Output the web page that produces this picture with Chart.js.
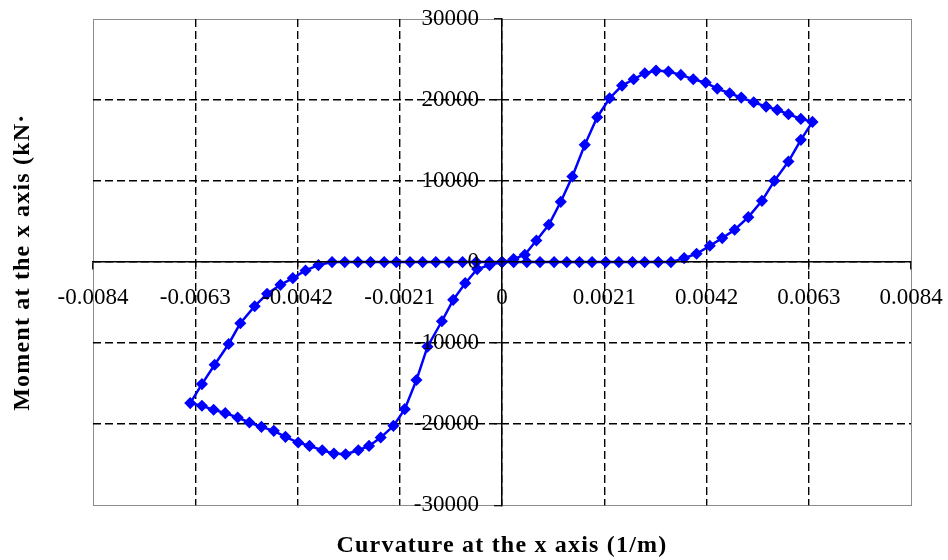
<!DOCTYPE html>
<html>
<head>
<meta charset="utf-8">
<script src="https://cdn.jsdelivr.net/npm/chart.js@4.4.1/dist/chart.umd.min.js"></script>
<style>
  html, body { margin: 0; padding: 0; background: #fff; }
  #wrap { width: 948px; height: 560px; }
</style>
</head>
<body>
<div id="wrap"><canvas id="hysteresis" width="948" height="560"></canvas></div>
<script>
// curvature (1/m) and moment (kN.m), in drawing order round the loop
var curvature = [
  0, 0.000238, 0.000468, 0.000706, 0.000961, 0.001207, 0.001445, 0.0017, 0.001955, 0.00221,
  0.002466, 0.002704, 0.002933, 0.003163, 0.003418, 0.003673, 0.003928, 0.004183, 0.004421,
  0.004676, 0.004914, 0.005169, 0.005424, 0.005654, 0.005883, 0.006138, 0.006377,
  0.006138, 0.005883, 0.005594, 0.005339, 0.005059, 0.004778, 0.004523, 0.004268, 0.003996, 0.003741,
  0.00347, 0.00321, 0.00293, 0.00268, 0.0024, 0.00213, 0.00185, 0.00159, 0.00133, 0.00107,
  0.00078, 0.00051, 0.00024, 0, -0.00026, -0.00053, -0.00081, -0.00109, -0.00136, -0.00163,
  -0.00189, -0.00217, -0.00242, -0.0027, -0.00296, -0.00323, -0.00349,
  -0.00377, -0.004035, -0.004296, -0.00455, -0.004825, -0.005079, -0.005374, -0.005614,
  -0.005902, -0.006163, -0.006403,
  -0.006163, -0.005923, -0.005683, -0.005429, -0.005188, -0.004941, -0.004687, -0.004447,
  -0.004186, -0.003953, -0.003692, -0.003452, -0.003212, -0.002951, -0.002731, -0.002491,
  -0.00223, -0.001997, -0.001757, -0.00153, -0.001235, -0.001002, -0.000755, -0.00051,
  -0.000255, 0
];
var moment = [
  0, 370, 904, 2672, 4603, 7439, 10563, 14468, 17879, 20222,
  21784, 22564, 23304, 23633, 23510, 23099, 22564, 22153, 21413,
  20838, 20304, 19728, 19194, 18783, 18249, 17674, 17304,
  15085, 12413, 10029, 7563, 5549, 3987, 2959, 2014, 1028, 493,
  0, 0, 0, 0, 0, 0, 0, 0, 0, 0,
  0, 0, 0, 0, 0, 0, 0, 0, 0, 0,
  0, 0, 0, 0, 0, 0, 0,
  -370, -1031, -1979, -2804, -3918, -5444, -7547, -10104,
  -12660, -15053, -17403,
  -17733, -18228, -18640, -19177, -19795, -20331, -20826, -21568,
  -22269, -22682, -23218, -23630, -23713, -23218, -22682, -21651,
  -20207, -18145, -14557, -10434, -7300, -4660, -2598, -863,
  -370, 0
];

var xTicks = [-0.0084, -0.0063, -0.0042, -0.0021, 0, 0.0021, 0.0042, 0.0063, 0.0084];
var xTickLabels = ['-0.0084', '-0.0063', '-0.0042', '-0.0021', '0', '0.0021', '0.0042', '0.0063', '0.0084'];
var yTicks = [-30000, -20000, -10000, 0, 10000, 20000, 30000];
var yTickLabels = ['-30000', '-20000', '-10000', '0', '10000', '20000', '30000'];

var xTitle = 'Curvature at the x axis (1/m)';
var yTitle = 'Moment at the x axis (kN\u00b7';

Chart.defaults.font.family = "'Liberation Serif', 'Times New Roman', serif";
Chart.defaults.color = '#000';

// grey box round the plot area, white page behind.
// the two axis titles are spaced out a little, so letter spacing is on
// until the data is drawn (axes and tick labels come after, at z 1)
var plotFrame = {
  id: 'plotFrame',
  beforeDraw: function(chart) {
    var a = chart.chartArea, ctx = chart.ctx;
    ctx.save();
    ctx.fillStyle = '#fff';
    ctx.fillRect(0, 0, chart.width, chart.height);
    ctx.strokeStyle = '#8c8c8c';
    ctx.lineWidth = 1;
    ctx.strokeRect(Math.round(a.left) + 0.5, Math.round(a.top) + 0.5,
      Math.round(a.right - a.left), Math.round(a.bottom - a.top));
    ctx.restore();
    ctx.letterSpacing = '1.2px';
  },
  afterDatasetsDraw: function(chart) {
    chart.ctx.letterSpacing = '0px';
  }
};

// no dashed line on top of the frame
function edgeless(ctx) {
  var s = ctx.scale;
  if (ctx.tick && (ctx.tick.value === s.min || ctx.tick.value === s.max)) return 'rgba(0,0,0,0)';
  return '#000';
}

var points = curvature.map(function(c, i) { return {x: c, y: moment[i]}; });

var ctx = document.getElementById('hysteresis').getContext('2d');
var chart = new Chart(ctx, {
  type: 'scatter',
  data: {
    datasets: [{
      data: points,
      showLine: true,
      borderColor: '#0000ff',
      backgroundColor: '#0000ff',
      borderWidth: 2.5,
      pointStyle: 'rectRot',
      pointRadius: 5,
      pointBorderWidth: 1.5,
      tension: 0
    }]
  },
  plugins: [plotFrame],
  options: {
    responsive: false,
    animation: false,
    layout: { padding: { top: 19, right: 37, left: 0, bottom: 0 } },
    plugins: {
      legend: { display: false },
      tooltip: { enabled: false },
      title: {
        display: true,
        text: xTitle,
        position: 'bottom',
        fullSize: false,
        color: '#000',
        font: { size: 24, weight: 'bold' },
        padding: { top: 26, bottom: 0 }
      },
      subtitle: {
        display: true,
        text: yTitle,
        position: 'left',
        fullSize: false,
        color: '#000',
        font: { size: 24, weight: 'bold' },
        padding: { top: 8, bottom: 56.2 }
      }
    },
    scales: {
      x: {
        type: 'linear',
        position: { y: 0 },
        min: -0.0084,
        max: 0.0084,
        afterBuildTicks: function(scale) {
          scale.ticks = xTicks.map(function(v) { return {value: v}; });
        },
        afterFit: function(scale) {
          scale.height = 0;
          scale.paddingLeft = 0;
          scale.paddingRight = 0;
        },
        ticks: {
          autoSkip: false,
          maxRotation: 0,
          padding: 15,
          z: 1,
          font: { size: 23 },
          color: '#000',
          callback: function(value, index) { return xTickLabels[index]; }
        },
        grid: {
          color: edgeless,
          lineWidth: 1.4,
          tickLength: 7,
          tickColor: '#000',
          tickWidth: 1.2
        },
        border: { display: true, color: '#000', width: 1.5, dash: [8, 4], z: 1 }
      },
      y: {
        type: 'linear',
        position: { x: 0 },
        min: -30000,
        max: 30000,
        afterBuildTicks: function(scale) {
          scale.ticks = yTicks.map(function(v) { return {value: v}; });
        },
        afterFit: function(scale) {
          scale.width = 0;
          scale.paddingTop = 0;
          scale.paddingBottom = 0;
        },
        ticks: {
          autoSkip: false,
          z: 1,
          font: { size: 23 },
          color: '#000',
          // centred axes put the label flush on the line, keep a gap of one em
          callback: function(value, index) { return yTickLabels[index] + '\u2003'; }
        },
        grid: {
          color: edgeless,
          lineWidth: 1.4,
          tickLength: 7,
          tickColor: '#000',
          tickWidth: 1.2
        },
        border: { display: true, color: '#000', width: 1.5, dash: [8, 4], z: 1 }
      }
    }
  }
});
</script>
</body>
</html>
